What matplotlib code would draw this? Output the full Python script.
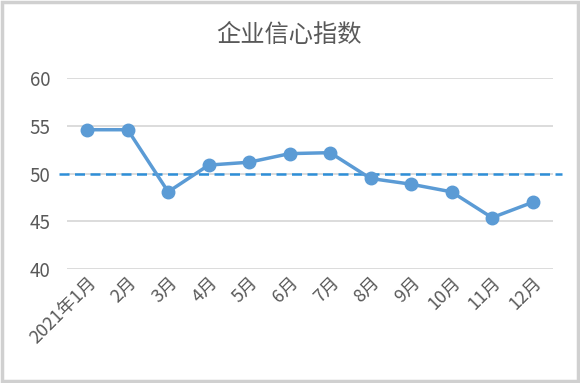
import matplotlib
matplotlib.use("Agg")
import matplotlib.pyplot as plt
import matplotlib.transforms as mtransforms
from matplotlib.patches import Rectangle

plt.rcParams['font.family'] = ['Noto Sans CJK SC', 'DejaVu Sans']

months = ["2021年1月", "2月", "3月", "4月", "5月", "6月", "7月", "8月", "9月", "10月", "11月", "12月"]
values = [54.6, 54.6, 48.1, 50.9, 51.2, 52.1, 52.2, 49.5, 48.9, 48.1, 45.4, 47.0]
threshold = 50
yticks = [40, 45, 50, 55, 60]
title = "企业信心指数"

fig = plt.figure(figsize=(5.8, 3.83), dpi=100)
fig.patch.set_facecolor("white")
fig.patches.append(Rectangle((0.003, 0.004), 0.994, 0.992, transform=fig.transFigure,
                             fill=False, edgecolor="#D0D0D0", linewidth=2.5))

ax = fig.add_axes([0.1155, 0.297, 0.8375, 0.499])
x = list(range(len(months)))
ax.set_xlim(-0.5, len(months) - 0.5)
ax.set_ylim(40, 60)
ax.set_yticks(yticks)
ax.yaxis.grid(True, color="#D9D9D9", linewidth=1.3)
ax.set_axisbelow(True)
for s in ax.spines.values():
    s.set_visible(False)
ax.tick_params(axis="both", length=0, colors="#595959")
ax.tick_params(axis="y", pad=12, labelsize=13.5)
ax.set_xticks(x)
ax.set_xticklabels(months, rotation=45, ha="right", rotation_mode="anchor", fontsize=13, color="#595959")
ax.tick_params(axis="x", pad=3)

trans = mtransforms.blended_transform_factory(ax.transAxes, ax.transData)
ax.plot([-0.016, 1.02], [threshold, threshold], transform=trans, clip_on=False,
        color="#2E8FD8", linewidth=1.8, linestyle=(0, (4, 2.2)), zorder=2)

ax.plot(x, values, color="#5B9BD5", linewidth=2.5, marker="o", markersize=9,
        markerfacecolor="#5B9BD5", markeredgecolor="#5B9BD5", zorder=3, clip_on=False)

fig.text(0.498, 0.908, title, ha="center", va="center", fontsize=17.5, color="#595959")

fig.savefig("out.png", dpi=100)
